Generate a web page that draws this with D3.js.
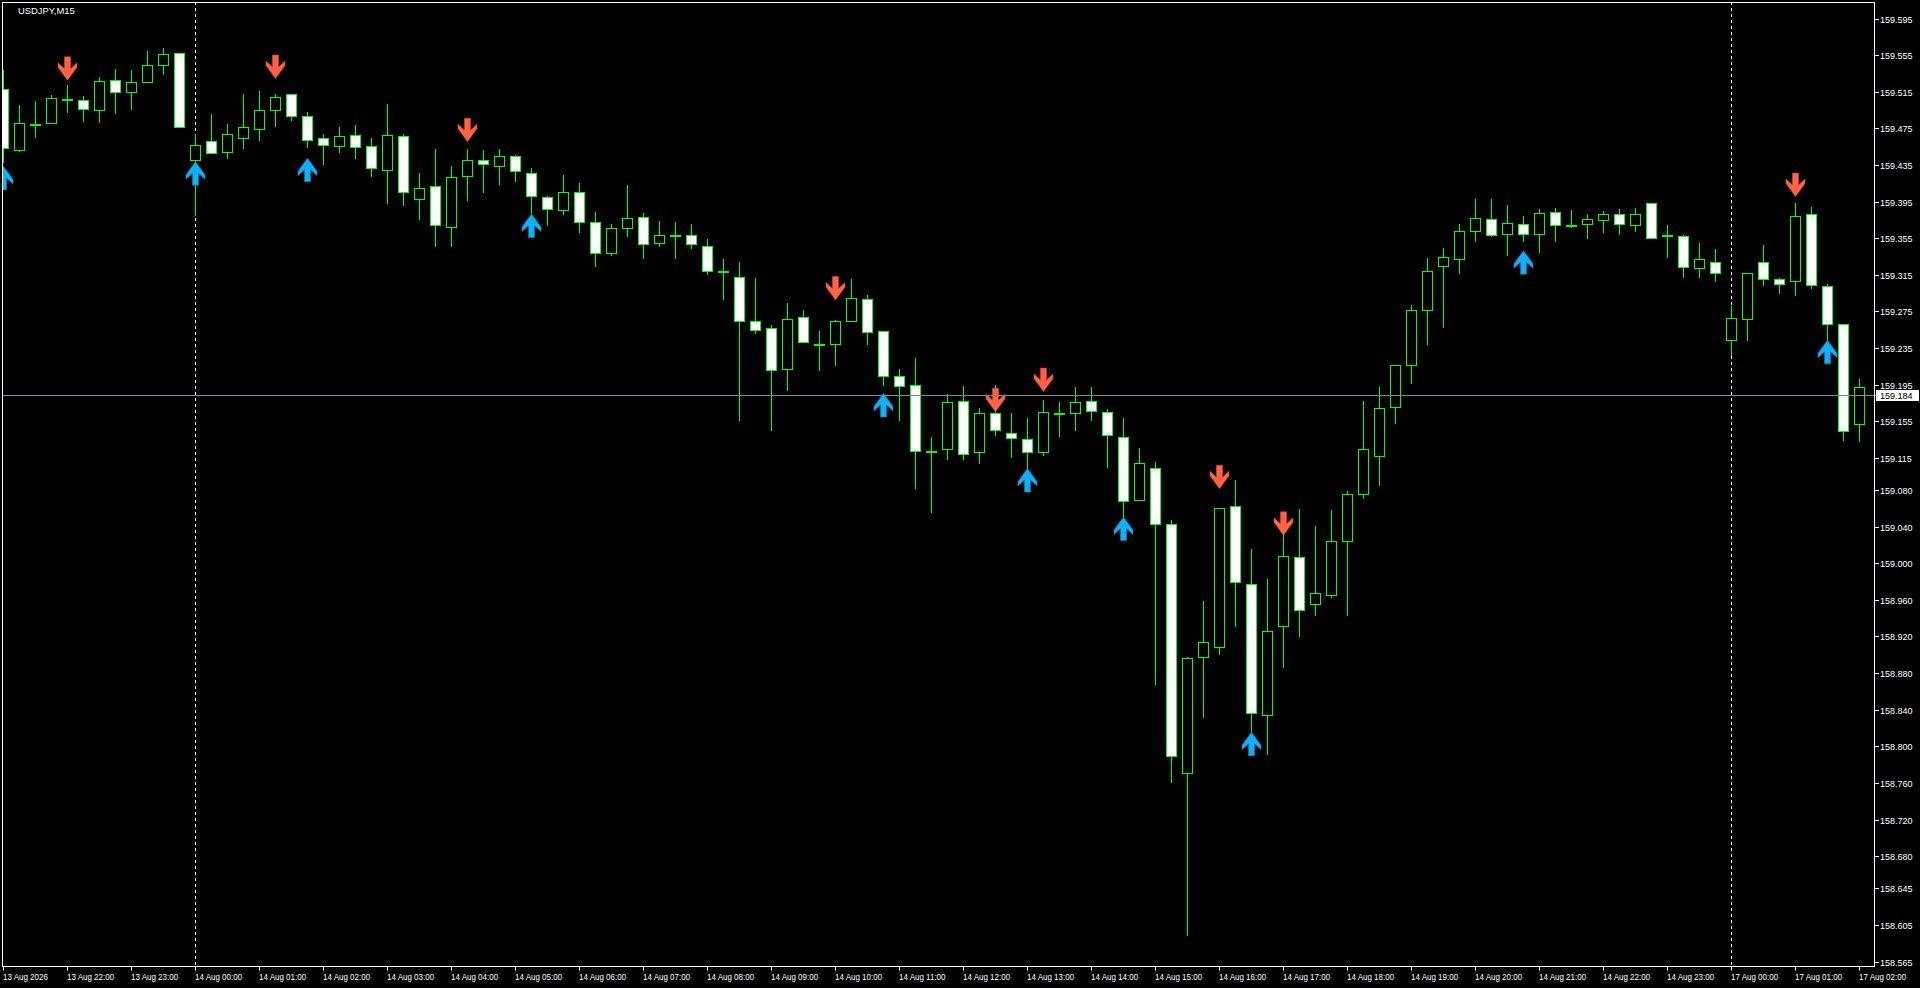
<!DOCTYPE html>
<html><head><meta charset="utf-8">
<script src="https://cdn.jsdelivr.net/npm/d3@7/dist/d3.min.js"></script>
<style>html,body{margin:0;padding:0;background:#000;overflow:hidden}svg{display:block}</style>
</head><body>
<svg id="chart" width="1920" height="988"></svg>
<script>
// ---------- DATA ----------
const chartTitle = "USDJPY,M15";
// bar sessions: [day label, first hour, number of bars]
const sessions = [["13 Aug", 21, 12], ["14 Aug", 0, 96], ["17 Aug", 0, 9]];

const openP = [159.518,159.451,159.480,159.481,159.507,159.506,159.495,159.528,159.515,159.526,159.544,159.557,
159.440,159.461,159.449,159.465,159.474,159.495,159.512,159.489,159.465,159.456,159.468,159.456,159.430,159.467,159.398,159.412,159.367,159.423,159.440,159.434,
159.445,159.426,159.400,159.386,159.406,159.373,159.339,159.366,159.378,159.350,159.359,159.358,159.347,159.319,159.313,159.265,159.257,159.212,159.269,159.240,
159.239,159.265,159.289,159.254,159.205,159.195,159.123,159.125,159.177,159.122,159.164,159.142,159.136,159.122,159.164,159.164,159.177,159.165,159.138,159.069,
159.104,159.043,158.771,158.898,158.908,159.062,158.977,158.834,158.931,159.007,158.956,158.965,159.024,159.076,159.117,159.171,159.217,159.277,159.325,159.332,
159.363,159.376,159.360,159.371,159.360,159.384,159.369,159.370,159.375,159.382,159.369,159.394,159.358,159.357,159.323,159.329,
159.244,159.267,159.329,159.310,159.308,159.382,159.303,159.261,159.152];
const highP = [159.539,159.501,159.505,159.511,159.522,159.510,159.531,159.540,159.539,159.560,159.563,159.557,
159.469,159.491,159.480,159.512,159.516,159.513,159.512,159.493,159.469,159.477,159.479,159.464,159.502,159.469,159.426,159.452,159.434,159.452,159.451,159.453,
159.446,159.432,159.401,159.424,159.415,159.384,159.370,159.413,159.383,159.374,159.373,159.370,159.354,159.332,159.329,159.312,159.260,159.284,159.277,159.254,
159.266,159.310,159.293,159.254,159.212,159.224,159.138,159.185,159.194,159.170,159.195,159.164,159.159,159.178,159.176,159.192,159.192,159.168,159.159,159.126,
159.111,159.047,158.898,158.959,159.060,159.091,159.016,158.983,159.031,159.059,159.041,159.058,159.079,159.177,159.192,159.216,159.282,159.333,159.344,159.370,
159.398,159.398,159.391,159.379,159.387,159.388,159.386,159.382,159.385,159.387,159.388,159.394,159.369,159.359,159.350,159.343,
159.281,159.317,159.348,159.312,159.394,159.389,159.305,159.261,159.201];
const lowP = [159.438,159.450,159.466,159.481,159.493,159.483,159.482,159.492,159.496,159.526,159.534,159.476,
159.380,159.448,159.443,159.454,159.462,159.478,159.484,159.455,159.436,159.449,159.443,159.423,159.394,159.391,159.376,159.346,159.346,159.397,159.405,159.414,
159.418,159.383,159.369,159.382,159.362,159.325,159.337,159.357,159.333,159.346,159.333,159.344,159.316,159.289,159.156,159.252,159.146,159.189,159.242,159.211,
159.216,159.265,159.239,159.195,159.156,159.082,159.056,159.114,159.114,159.109,159.140,159.116,159.104,159.118,159.139,159.146,159.156,159.105,159.051,159.069,
158.868,158.761,158.594,158.832,158.901,158.931,158.817,158.792,158.887,158.920,158.944,158.963,158.943,159.071,159.085,159.153,159.197,159.239,159.258,159.317,
159.352,159.357,159.337,159.352,159.340,159.352,159.367,159.355,159.362,159.360,159.363,159.355,159.335,159.313,159.313,159.308,
159.228,159.244,159.304,159.295,159.293,159.301,159.244,159.135,159.133];
const closeP = [159.454,159.481,159.480,159.508,159.507,159.496,159.527,159.515,159.526,159.544,159.556,159.476,
159.457,159.448,159.469,159.476,159.495,159.509,159.488,159.462,159.457,159.467,159.455,159.432,159.468,159.406,159.410,159.369,159.422,159.440,159.436,159.445,
159.428,159.401,159.387,159.406,159.373,159.339,159.366,159.377,159.349,159.358,159.357,159.349,159.319,159.319,159.265,159.255,159.211,159.267,159.242,159.240,
159.265,159.290,159.253,159.204,159.194,159.123,159.123,159.176,159.119,159.164,159.145,159.137,159.122,159.165,159.164,159.176,159.166,159.140,159.068,159.109,
159.043,158.789,158.897,158.914,159.060,158.979,158.836,158.926,159.008,158.949,158.967,159.024,159.076,159.125,159.170,159.216,159.277,159.319,159.334,159.363,
159.377,159.359,159.372,159.360,159.383,159.369,159.369,159.376,159.382,159.370,159.382,159.355,159.358,159.324,159.332,159.317,
159.268,159.317,159.310,159.305,159.379,159.304,159.261,159.144,159.193];

// signal arrows: bar index and price at the arrow tip
const sellSignalBar   = [4, 17, 29, 52, 62, 65, 76, 80, 112];
const sellSignalPrice = [159.528,159.530,159.461,159.288,159.166,159.188,159.082,159.031,159.401];
const buySignalBar    = [0, 12, 19, 33, 55, 64, 70, 78, 95, 114];
const buySignalPrice  = [159.434,159.439,159.443,159.382,159.186,159.104,159.051,158.816,159.342,159.244];

const bidPrice = 159.184;
const priceTickLabels = ["159.595","159.555","159.515","159.475","159.435","159.395","159.355","159.315","159.275","159.235","159.195","159.155","159.115",
"159.080","159.040","159.000","158.960","158.920","158.880","158.840","158.800","158.760","158.720","158.680","158.645","158.605","158.565"];
const timeTickLabels = ["13 Aug 2026","13 Aug 22:00","13 Aug 23:00","14 Aug 00:00","14 Aug 01:00","14 Aug 02:00","14 Aug 03:00","14 Aug 04:00",
"14 Aug 05:00","14 Aug 06:00","14 Aug 07:00","14 Aug 08:00","14 Aug 09:00","14 Aug 10:00","14 Aug 11:00","14 Aug 12:00","14 Aug 13:00",
"14 Aug 14:00","14 Aug 15:00","14 Aug 16:00","14 Aug 17:00","14 Aug 18:00","14 Aug 19:00","14 Aug 20:00","14 Aug 21:00","14 Aug 22:00",
"14 Aug 23:00","17 Aug 00:00","17 Aug 01:00","17 Aug 02:00"];
const daySeparators = ["14 Aug 00:00", "17 Aug 00:00"];

// ---------- BUILD ----------
const pad = n => String(n).padStart(2, "0");
const times = [];
sessions.forEach(([day, h0, n]) => {
  for (let i = 0; i < n; i++) {
    const m = i * 15, hh = h0 + Math.floor(m / 60), mm = m % 60;
    times.push(day + " " + pad(hh) + ":" + pad(mm));
  }
});
const bars = times.map((t, i) => ({t, o: openP[i], h: highP[i], l: lowP[i], c: closeP[i]}));

const W = 1920, H = 988;
const plotL = 2, plotR = 1874, plotT = 2, plotB = 966;
const svg = d3.select("#chart");
svg.append("rect").attr("width", W).attr("height", H).attr("fill", "#000");

const x = d3.scalePoint().domain(times).range([3.5, 1859.5]);
const y = d3.scaleLinear().domain([158.565, 159.595]).range([962, 19]);
const snap = v => Math.round(v - 0.5) + 0.5;

svg.append("defs").append("clipPath").attr("id", "plotClip")
  .append("rect").attr("x", plotL + 0.5).attr("y", plotT + 0.5)
  .attr("width", plotR - plotL - 0.5).attr("height", plotB - plotT - 0.5);

const plot = svg.append("g").attr("clip-path", "url(#plotClip)");

// day separators
plot.selectAll("line.sep").data(daySeparators).join("line")
  .attr("x1", d => x(d)).attr("x2", d => x(d))
  .attr("y1", plotT).attr("y2", plotB)
  .attr("stroke", "#fff").attr("stroke-width", 1).attr("stroke-dasharray", "3,3");

// bid line
const bidY = snap(y(bidPrice));
svg.append("line").attr("x1", plotL).attr("x2", plotR + 3)
  .attr("y1", bidY).attr("y2", bidY).attr("stroke", "#7f8894").attr("stroke-width", 1);

// candles
const cg = plot.append("g");
cg.selectAll("line.wick").data(bars).join("line")
  .attr("x1", d => x(d.t)).attr("x2", d => x(d.t))
  .attr("y1", d => snap(y(d.h)) - 0.5).attr("y2", d => snap(y(d.l)) + 0.5)
  .attr("stroke", "#00ff00").attr("stroke-width", 1);
cg.selectAll("rect.body").data(bars).join("rect")
  .attr("x", d => x(d.t) - 5)
  .attr("y", d => snap(y(Math.max(d.o, d.c))))
  .attr("width", 10)
  .attr("height", d => Math.max(1, snap(y(Math.min(d.o, d.c))) - snap(y(Math.max(d.o, d.c)))))
  .attr("fill", d => d.c < d.o ? "#ffffff" : "#000000")
  .attr("stroke", "#00ff00").attr("stroke-width", 1);

// arrows
const downArrow = "M0,0 L-9.5,-13 L-9.5,-17.5 L-3,-11.5 L-3,-23.5 L3,-23.5 L3,-11.5 L9.5,-17.5 L9.5,-13 Z";
const upArrow = "M0,0 L-9.5,13 L-9.5,17.5 L-3,11.5 L-3,23.5 L3,23.5 L3,11.5 L9.5,17.5 L9.5,13 Z";
plot.selectAll("path.sell").data(sellSignalBar.map((b, i) => ({t: times[b], p: sellSignalPrice[i]}))).join("path")
  .attr("transform", d => `translate(${x(d.t)},${y(d.p)})`)
  .attr("d", downArrow).attr("fill", "#ff6347").attr("stroke", "#d9442c").attr("stroke-width", 0.6);
plot.selectAll("path.buy").data(buySignalBar.map((b, i) => ({t: times[b], p: buySignalPrice[i]}))).join("path")
  .attr("transform", d => `translate(${x(d.t)},${y(d.p)})`)
  .attr("d", upArrow).attr("fill", "#0fb0f5").attr("stroke", "#0a7fc0").attr("stroke-width", 0.6);

// frame
svg.append("rect").attr("x", plotL + 0.5).attr("y", plotT + 0.5)
  .attr("width", plotR - plotL).attr("height", plotB - plotT)
  .attr("fill", "none").attr("stroke", "#fff").attr("stroke-width", 1);

const font = "'Liberation Sans', Arial, sans-serif";

// price axis
const pa = svg.append("g");
priceTickLabels.forEach(lbl => {
  const ty = snap(y(+lbl));
  pa.append("line").attr("x1", plotR + 1).attr("x2", plotR + 5).attr("y1", ty).attr("y2", ty).attr("stroke", "#fff");
  pa.append("text").attr("x", plotR + 6).attr("y", ty).attr("dy", "0.35em")
    .attr("fill", "#fff").attr("font-family", font).attr("font-size", 9).text(lbl);
});
// bid label
pa.append("rect").attr("x", plotR + 2).attr("y", bidY - 5.5).attr("width", 43).attr("height", 11).attr("fill", "#fff");
pa.append("text").attr("x", plotR + 6).attr("y", bidY).attr("dy", "0.35em")
  .attr("fill", "#000").attr("font-family", font).attr("font-size", 9).text(bidPrice.toFixed(3));

// time axis
const ta = svg.append("g");
timeTickLabels.forEach((lbl, i) => {
  const tx = x(times[i * 4]);
  ta.append("line").attr("x1", tx).attr("x2", tx).attr("y1", plotB + 1).attr("y2", plotB + 4.5).attr("stroke", "#fff");
  ta.append("text").attr("transform", `translate(${tx - 0.5},${plotB + 14}) scale(0.87,1)`)
    .attr("fill", "#fff").attr("font-family", font).attr("font-size", 9.2).text(lbl);
});

// title
svg.append("text").attr("x", 18).attr("y", 14).attr("fill", "#fff")
  .attr("font-family", font).attr("font-size", 9.4).text(chartTitle);
</script>
</body></html>
